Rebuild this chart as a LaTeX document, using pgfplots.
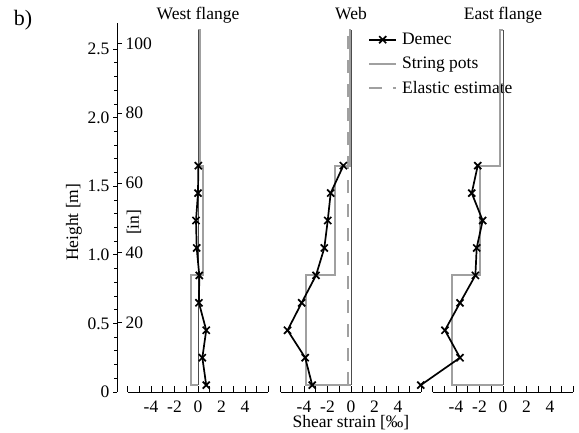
\documentclass[border=0pt]{standalone}
\usepackage{fontspec}
\setmainfont{Liberation Serif}
\usepackage{pgfplots}
\pgfplotsset{compat=1.18}

\definecolor{potgray}{RGB}{160,160,160}

\tikzset{
  fs/.style={font=\fontsize{17.5}{20}\selectfont},
  demec/.style={black, line width=1.7pt, mark=x, mark size=5pt, mark options={line width=1.7pt}},
  pots/.style={potgray, line width=1.8pt},
  elastic/.style={potgray, line width=1.8pt, dash pattern=on 13pt off 11pt},
  zeroline/.style={black!70, line width=0.8pt},
}
\pgfplotsset{
  panel/.style={
    scale only axis, width=141pt, height=369pt,
    xmin=-6, xmax=6, ymin=0, ymax=2.69,
    axis x line*=bottom, axis y line=none, ytick=\empty,
    xtick={-4,-2,0,2,4}, minor xtick={-6,-5,...,6},
    tick align=inside, major tick length=6pt, minor tick length=6pt,
    tick style={black, line width=0.8pt},
    axis line style={line width=0.8pt},
    clip=false,
    /pgf/number format/assume math mode=true,
    tick label style={fs},
    xticklabel style={yshift=-5pt},
    title style={fs, at={(0.5,1)}, anchor=base, yshift=-3pt},
  },
}

\begin{document}
\begin{tikzpicture}
\path[use as bounding box] (0,0) rectangle (579pt,433pt);
\node[font=\fontsize{22}{24}\selectfont] at (23pt,413pt) {b)};

% height axis in metres
\begin{axis}[scale only axis, width=10pt, height=369pt,
  at={(117pt,41pt)}, anchor=south west,
  ymin=0, ymax=2.69, hide x axis, axis y line*=left,
  ytick={0,0.5,1.0,1.5,2.0,2.5}, yticklabels={0,0.5,1.0,1.5,2.0,2.5},
  minor y tick num=4, tick align=outside,
  major tick length=4pt, minor tick length=3pt,
  tick style={black, line width=0.8pt}, axis line style={line width=0.8pt},
  tick label style={fs},
  ylabel={Height [m]},
  ylabel style={fs, at={(axis description cs:-4.3,0.46)}, anchor=center}]
\addplot[draw=none] coordinates {(0,0)};
\end{axis}

% height axis in inches
\begin{axis}[scale only axis, width=10pt, height=369pt,
  at={(117pt,41pt)}, anchor=south east,
  ymin=0, ymax=105.91, hide x axis, axis y line*=right,
  ytick={20,40,60,80,100}, tick align=outside,
  major tick length=5pt,
  tick style={black, line width=0.8pt}, axis line style={line width=0.8pt},
  /pgf/number format/assume math mode=true,
  tick label style={fs},
  ylabel={[in]},
  ylabel style={fs, at={(axis description cs:2.7,0.46)}, anchor=center}]
\addplot[draw=none] coordinates {(0,0)};
\end{axis}

% West flange
\begin{axis}[panel, at={(127.5pt,41pt)}, anchor=south west, title={West flange}]
\addplot[pots] coordinates {(0,0.05) (-0.6,0.05) (-0.6,0.85) (0.4,0.85) (0.4,1.65) (0.2,1.65) (0.2,2.64) (0,2.64)};
\addplot[zeroline] coordinates {(0,0.05) (0,2.64)};
\addplot[demec] coordinates {
  (0.70,0.05) (0.37,0.25) (0.70,0.45) (0.08,0.65) (0.11,0.85)
  (-0.11,1.05) (-0.17,1.25) (0.0,1.45) (0.03,1.65)};
\end{axis}

% Web
\begin{axis}[panel, at={(280.5pt,41pt)}, anchor=south west, title={Web},
  xlabel={Shear strain [‰]},
  xlabel style={fs, at={(axis description cs:0.5,0)}, anchor=base, yshift=-36pt},
  legend image code/.code={\draw[mark repeat=2,mark phase=2,#1] plot coordinates {(0pt,0pt) (13.5pt,0pt) (27pt,0pt)};},
  legend style={fs, draw=none, fill=none, at={(axis description cs:0.6,1.0)}, anchor=north west,
    yshift=-6pt, row sep=7pt, nodes={inner xsep=5pt}},
  legend cell align=left]
\addlegendimage{demec}
\addlegendentry{Demec}
\addlegendimage{pots}
\addlegendentry{String pots}
\addlegendimage{elastic}
\addlegendentry{Elastic estimate}
\addplot[pots, forget plot] coordinates {(0,0.05) (-3.85,0.05) (-3.85,0.85) (-1.36,0.85) (-1.36,1.65) (-0.1,1.65) (-0.1,2.64) (0,2.64)};
\addplot[elastic, forget plot] coordinates {(-0.23,0.05) (-0.23,2.64)};
\addplot[zeroline, forget plot] coordinates {(0,0.05) (0,2.64)};
\addplot[demec, forget plot] coordinates {
  (-3.3,0.05) (-3.9,0.25) (-5.4,0.45) (-4.2,0.65) (-2.98,0.85)
  (-2.27,1.05) (-1.98,1.25) (-1.73,1.45) (-0.65,1.65)};
\end{axis}

% East flange
\begin{axis}[panel, at={(432.5pt,41pt)}, anchor=south west, title={East flange}]
\addplot[pots] coordinates {(0,0.05) (-4.37,0.05) (-4.37,0.85) (-1.96,0.85) (-1.96,1.65) (-0.26,1.65) (-0.26,2.64) (0,2.64)};
\addplot[zeroline] coordinates {(0,0.05) (0,2.64)};
\addplot[demec] coordinates {
  (-7.0,0.05) (-3.66,0.25) (-4.94,0.45) (-3.66,0.65) (-2.35,0.85)
  (-2.24,1.05) (-1.73,1.25) (-2.66,1.45) (-2.15,1.65)};
\end{axis}
\end{tikzpicture}
\end{document}
